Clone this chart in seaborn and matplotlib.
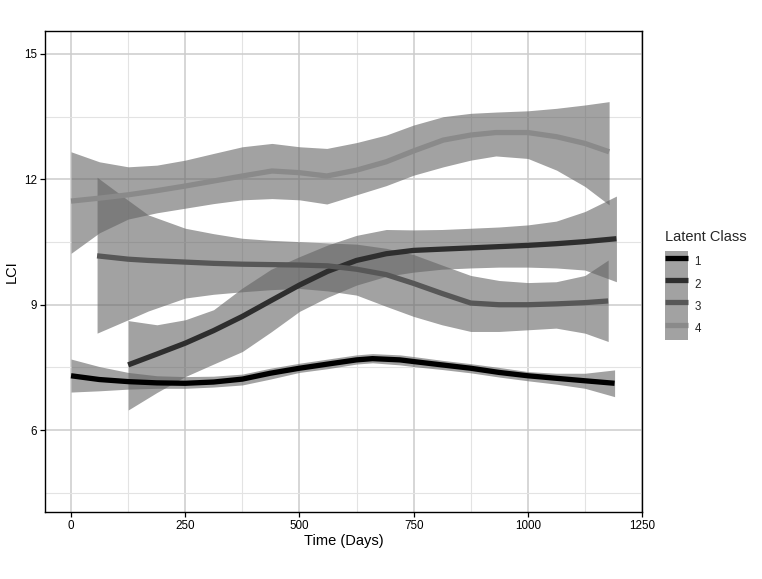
import numpy as np
import pandas as pd
import matplotlib
matplotlib.use("Agg")
import matplotlib.pyplot as plt
from matplotlib.patches import Patch
from matplotlib.lines import Line2D
from matplotlib.ticker import MultipleLocator
import seaborn as sns

# --- values (smoothed fit + 95% band per latent class) ---
x1 = [0, 62, 125, 188, 250, 312, 375, 436, 500, 562, 625, 660, 720, 750, 812, 875, 937, 1000, 1062, 1125, 1190]
fit1 = [7.30, 7.21, 7.16, 7.13, 7.12, 7.15, 7.22, 7.36, 7.48, 7.58, 7.68, 7.71, 7.68, 7.64, 7.56, 7.48, 7.38, 7.30, 7.24, 7.18, 7.12]
up1 = [7.70, 7.52, 7.38, 7.30, 7.28, 7.29, 7.34, 7.48, 7.60, 7.70, 7.80, 7.83, 7.80, 7.76, 7.67, 7.59, 7.50, 7.40, 7.36, 7.36, 7.44]
lo1 = [6.91, 6.94, 6.98, 7.00, 7.00, 7.03, 7.08, 7.22, 7.38, 7.47, 7.58, 7.61, 7.56, 7.52, 7.45, 7.37, 7.27, 7.18, 7.10, 7.00, 6.80]

x2 = [125, 188, 250, 312, 375, 438, 500, 562, 625, 690, 750, 812, 875, 937, 1000, 1062, 1125, 1194]
fit2 = [7.56, 7.82, 8.08, 8.38, 8.72, 9.10, 9.47, 9.80, 10.06, 10.22, 10.30, 10.33, 10.36, 10.39, 10.42, 10.46, 10.51, 10.58]
up2 = [8.62, 8.52, 8.64, 8.88, 9.40, 9.85, 10.15, 10.43, 10.66, 10.80, 10.79, 10.80, 10.83, 10.86, 10.91, 11.00, 11.23, 11.60]
lo2 = [6.48, 6.90, 7.28, 7.58, 7.88, 8.35, 8.84, 9.18, 9.47, 9.68, 9.78, 9.85, 9.88, 9.90, 9.90, 9.88, 9.83, 9.55]

x3 = [57, 125, 169, 250, 312, 375, 438, 500, 562, 625, 690, 750, 812, 875, 937, 1000, 1062, 1125, 1176]
fit3 = [10.17, 10.09, 10.06, 10.02, 9.99, 9.97, 9.96, 9.95, 9.93, 9.85, 9.72, 9.51, 9.27, 9.04, 9.00, 9.00, 9.02, 9.05, 9.09]
up3 = [12.05, 11.50, 11.15, 10.83, 10.70, 10.59, 10.54, 10.51, 10.48, 10.45, 10.35, 10.20, 9.95, 9.70, 9.58, 9.53, 9.55, 9.70, 10.07]
lo3 = [8.32, 8.64, 8.85, 9.16, 9.25, 9.31, 9.36, 9.39, 9.33, 9.23, 8.96, 8.72, 8.52, 8.36, 8.36, 8.40, 8.44, 8.32, 8.12]

x4 = [0, 62, 125, 188, 250, 312, 375, 440, 500, 560, 625, 690, 750, 815, 875, 930, 1000, 1063, 1125, 1178]
fit4 = [11.48, 11.55, 11.63, 11.73, 11.84, 11.96, 12.08, 12.20, 12.16, 12.08, 12.22, 12.42, 12.68, 12.94, 13.06, 13.12, 13.12, 13.02, 12.86, 12.66]
up4 = [12.66, 12.42, 12.30, 12.34, 12.46, 12.62, 12.78, 12.86, 12.78, 12.74, 12.88, 13.06, 13.30, 13.50, 13.58, 13.61, 13.64, 13.70, 13.78, 13.86]
lo4 = [10.23, 10.72, 11.05, 11.20, 11.31, 11.42, 11.51, 11.54, 11.51, 11.41, 11.63, 11.85, 12.10, 12.30, 12.46, 12.56, 12.50, 12.22, 11.83, 11.39]

classes = ["1", "2", "3", "4"]
line_colors = ["#000000", "#2e2e2e", "#575757", "#8a8a8a"]
band_color = "#646464"

series = {
    "1": (x1, fit1, up1, lo1),
    "2": (x2, fit2, up2, lo2),
    "3": (x3, fit3, up3, lo3),
    "4": (x4, fit4, up4, lo4),
}

frames = []
for c in classes:
    xs, fit, up, lo = series[c]
    frames.append(pd.DataFrame({"Time": xs, "LCI": fit, "upper": up,
                                "lower": lo, "Latent Class": c}))
df = pd.concat(frames, ignore_index=True)

sns.set_theme(style="white")
plt.rcParams["font.family"] = ["Liberation Sans", "DejaVu Sans"]

fig = plt.figure(figsize=(7.62, 5.79), dpi=100)
ax = fig.add_axes([45 / 762, 1 - 512 / 579, (642 - 45) / 762, (512 - 31) / 579])

# bands first, then all lines on top
for c in classes:
    d = df[df["Latent Class"] == c]
    ax.fill_between(d["Time"], d["lower"], d["upper"], color=band_color,
                    alpha=0.6, linewidth=0, zorder=2)

sns.lineplot(data=df, x="Time", y="LCI", hue="Latent Class",
             palette=dict(zip(classes, line_colors)), linewidth=3.8,
             legend=False, ax=ax, zorder=3, sort=True,
             solid_capstyle="butt")

ax.set_xlim(-57, 1250)
ax.set_ylim(4.04, 15.55)
ax.xaxis.set_major_locator(MultipleLocator(250))
ax.xaxis.set_minor_locator(MultipleLocator(125))
ax.yaxis.set_major_locator(MultipleLocator(3))
ax.yaxis.set_minor_locator(MultipleLocator(1.5))
ax.grid(which="major", color="#cccccc", linewidth=1.1, zorder=0)
ax.grid(which="minor", color="#e3e3e3", linewidth=0.8, zorder=0)
ax.set_axisbelow(True)

for s in ax.spines.values():
    s.set_visible(True)
    s.set_color("black")
    s.set_linewidth(1.0)

ax.tick_params(axis="both", which="major", direction="out", length=3.5,
               width=0.9, color="black", labelsize=8.4, labelcolor="black",
               bottom=True, left=True, pad=2)
ax.tick_params(axis="both", which="minor", length=0)

ax.set_xlabel("Time (Days)", fontsize=10.5, color="black", labelpad=2)
ax.set_ylabel("LCI", fontsize=10.5, color="black", labelpad=4)

handles = [(Patch(facecolor=band_color, alpha=0.6, edgecolor="none"),
            Line2D([], [], color=col, linewidth=3.8, solid_capstyle="butt"))
           for col in line_colors]
leg = ax.legend(handles, classes, title="Latent Class", loc="upper left",
                bbox_to_anchor=(1.03, 0.595), frameon=False, fontsize=8.4,
                title_fontsize=10.5, handlelength=2.0, handleheight=2.55,
                labelspacing=0.0, handletextpad=0.55, borderaxespad=0,
                alignment="left")
leg._legend_box.sep = 4.5  # gap between title and keys

fig.savefig("out.png", dpi=100)
